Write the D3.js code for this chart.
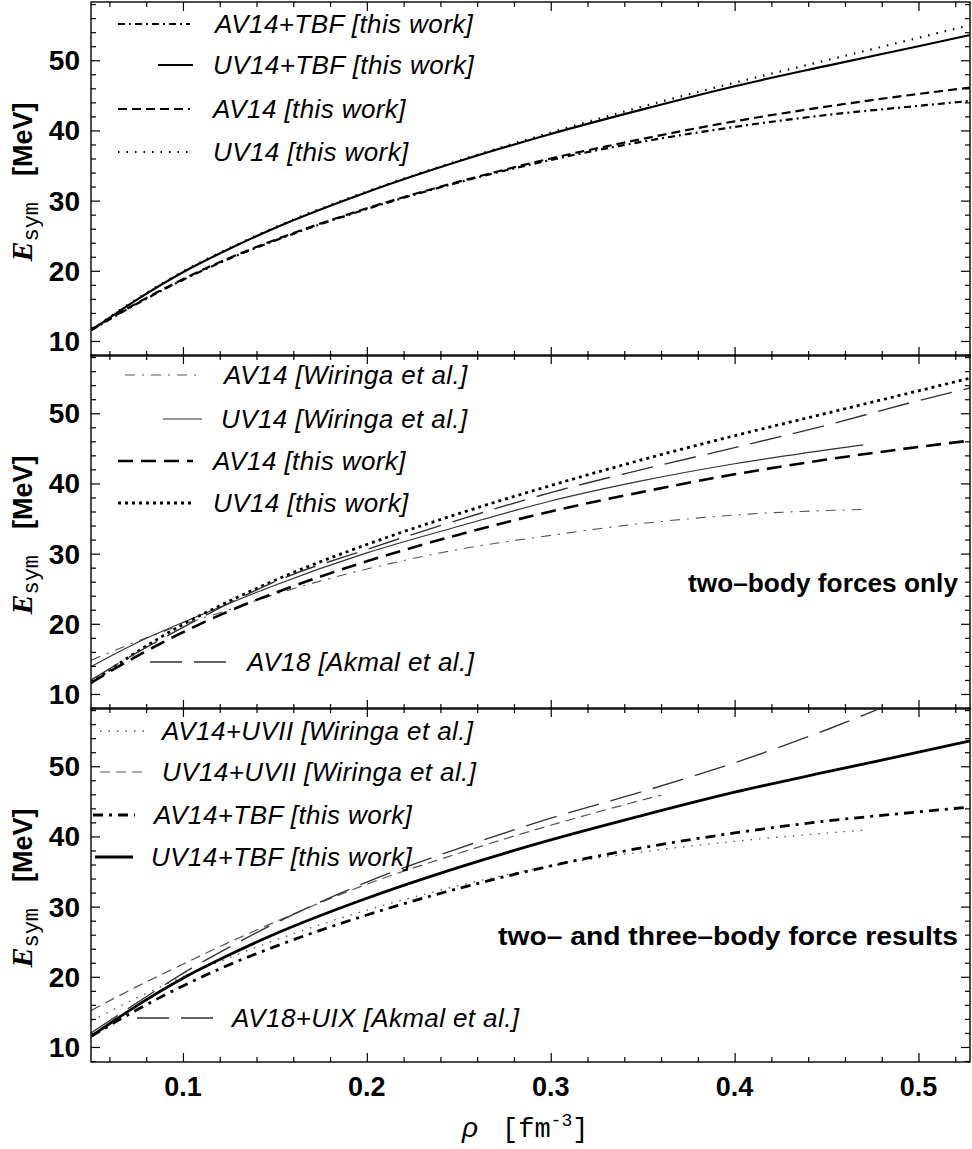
<!DOCTYPE html>
<html>
<head>
<meta charset="utf-8">
<script src="https://cdn.jsdelivr.net/npm/d3@7"></script>
<style>
  body { margin: 0; background: #fff; }
  svg { display: block; }
</style>
</head>
<body>
<div id="chart"></div>
<script>
// density grids (fm^-3)
var rho      = [0.05, 0.075, 0.1, 0.125, 0.15, 0.2, 0.25, 0.3, 0.35, 0.4, 0.45, 0.5, 0.528];
var rhoWir   = [0.05, 0.075, 0.1, 0.125, 0.15, 0.2, 0.25, 0.3, 0.35, 0.4, 0.47];
var rhoUVII  = [0.05, 0.075, 0.1, 0.125, 0.15, 0.2, 0.25, 0.3, 0.36];
var rhoAk    = [0.05, 0.075, 0.1, 0.125, 0.15, 0.2, 0.25, 0.3, 0.35, 0.4, 0.45, 0.5, 0.528];
var rhoAkUIX = [0.05, 0.075, 0.1, 0.125, 0.15, 0.2, 0.25, 0.3, 0.35, 0.4, 0.45, 0.5];

// E_sym (MeV)
var uv14tbf  = [11.5, 15.9, 19.8, 23.1, 26.1, 31.2, 35.6, 39.5, 43.0, 46.3, 49.2, 52.0, 53.6];
var av14tbf  = [11.5, 15.3, 18.7, 21.7, 24.3, 28.8, 32.6, 35.8, 38.4, 40.5, 42.2, 43.5, 44.2];
var av14     = [11.6, 15.4, 18.8, 21.8, 24.4, 28.9, 32.7, 36.0, 38.8, 41.3, 43.4, 45.2, 46.1];
var uv14     = [11.6, 16.0, 19.9, 23.2, 26.2, 31.3, 35.7, 39.7, 43.4, 46.8, 50.0, 53.2, 55.0];
var av14Wir  = [14.8, 17.5, 19.9, 22.0, 24.2, 27.8, 30.6, 32.6, 34.3, 35.5, 36.3];
var uv14Wir  = [13.9, 17.3, 20.2, 22.9, 25.5, 30.1, 33.9, 37.5, 40.4, 42.8, 45.5];
var av18Ak   = [12.0, 15.9, 19.5, 22.9, 26.0, 30.6, 34.8, 38.7, 42.0, 45.1, 48.3, 51.8, 53.6];
var av14uvii = [13.7, 17.0, 20.0, 22.7, 25.2, 29.5, 33.0, 35.8, 37.8, 39.3, 40.9];
var uv14uvii = [15.2, 18.6, 21.8, 24.9, 27.8, 33.2, 37.6, 41.6, 45.9];
var av18uix  = [12.0, 16.3, 20.5, 24.2, 27.6, 33.5, 38.3, 42.6, 46.4, 50.5, 55.2, 60.5];

// legend labels per panel
var legend1 = ["AV14+TBF [this work]", "UV14+TBF [this work]", "AV14 [this work]", "UV14 [this work]"];
var legend2 = ["AV14 [Wiringa et al.]", "UV14 [Wiringa et al.]", "AV14 [this work]", "UV14 [this work]", "AV18 [Akmal et al.]"];
var legend3 = ["AV14+UVII [Wiringa et al.]", "UV14+UVII [Wiringa et al.]", "AV14+TBF [this work]", "UV14+TBF [this work]", "AV18+UIX [Akmal et al.]"];
var notes = ["", "two\u2013body forces only", "two\u2013 and three\u2013body force results"];

var xTicks = [0.1, 0.2, 0.3, 0.4, 0.5];
var yTicks = [10, 20, 30, 40, 50];

// line styles
var S = {
  tbfDashDot: { w: 2.2, c: "#000", d: "7,4,2,4" },
  solid:      { w: 2.2, c: "#000", d: null },
  dashed:     { w: 2.2, c: "#000", d: "9,5" },
  dotted:     { w: 2.2, c: "#000", d: "1.5,7" },
  wirDashDot: { w: 1.1, c: "#555", d: "10,7,2,7" },
  wirSolid:   { w: 1.2, c: "#333", d: null },
  thickDash:  { w: 2.6, c: "#000", d: "15,8" },
  thickDot:   { w: 2.8, c: "#000", d: "3,4" },
  longDash:   { w: 1.4, c: "#333", d: "32,12" },
  grayDot:    { w: 1.3, c: "#555", d: "1.5,7" },
  grayDash:   { w: 1.2, c: "#555", d: "10,6" },
  boldDashDot:{ w: 2.8, c: "#000", d: "10,6,3,6" },
  boldSolid:  { w: 2.8, c: "#000", d: null }
};

var panels = [
  { series: [[rho, av14tbf, S.tbfDashDot], [rho, uv14tbf, S.solid], [rho, av14, S.dashed], [rho, uv14, S.dotted]],
    legend: legend1,
    rows: [[118, 190, 215, 22], [158, 193, 213, 63], [118, 190, 213, 107], [118, 190, 213, 150]] },
  { series: [[rhoWir, av14Wir, S.wirDashDot], [rhoWir, uv14Wir, S.wirSolid], [rho, av14, S.thickDash], [rho, uv14, S.thickDot], [rhoAk, av18Ak, S.longDash]],
    legend: legend2,
    rows: [[125, 196, 224, 20], [163, 202, 221, 64], [118, 193, 213, 106], [118, 193, 213, 148], [150, 227, 247, 307]] },
  { series: [[rhoWir, av14uvii, S.grayDot], [rhoUVII, uv14uvii, S.grayDash], [rho, av14tbf, S.boldDashDot], [rho, uv14tbf, S.boldSolid], [rhoAkUIX, av18uix, S.longDash]],
    legend: legend3,
    rows: [[100, 145, 162, 23], [100, 145, 162, 64], [93, 135, 154, 107], [95, 133, 151, 149], [137, 213, 232, 310]] }
];

var W = 972, H = 1149;
var tops = [2, 355, 708], ph = 354;
var noteLen = [0, 270, 460];
var x = d3.scaleLinear().domain([0.05, 0.528]).range([91, 970]);

var svg = d3.select("#chart").append("svg").attr("width", W).attr("height", H);
var sans = "'Liberation Sans', Arial, sans-serif";

panels.forEach(function(p, k) {
  var top = tops[k];
  var y = d3.scaleLinear().domain([7.86, 58.3]).range([top + ph, top]);
  var g = svg.append("g");

  svg.append("clipPath").attr("id", "clip" + k)
    .append("rect").attr("x", 91).attr("y", top).attr("width", 879).attr("height", ph);

  var line = d3.line().curve(d3.curveMonotoneX);

  p.series.forEach(function(s) {
    var pts = s[0].map(function(r, i) { return [x(r), y(s[1][i])]; });
    g.append("path")
      .attr("d", line(pts))
      .attr("clip-path", "url(#clip" + k + ")")
      .attr("fill", "none")
      .attr("stroke", s[2].c)
      .attr("stroke-width", s[2].w)
      .attr("stroke-dasharray", s[2].d);
  });

  // frame ticks, inward on all four sides
  var minorX = d3.range(0.06, 0.528, 0.02).filter(function(v) { return Math.abs(v * 10 - Math.round(v * 10)) > 1e-6; });
  var minorY = d3.range(8, 58.3, 2).filter(function(v) { return v % 10 != 0; });

  function ax(gen, t) {
    var a = g.append("g").attr("transform", t).call(gen);
    a.select(".domain").remove();
    a.selectAll("line").attr("stroke", "#000").attr("stroke-width", 1.2);
    return a;
  }
  ax(d3.axisBottom(x).tickValues(xTicks).tickSize(-9).tickFormat(""), "translate(0," + (top + ph) + ")");
  ax(d3.axisBottom(x).tickValues(minorX).tickSize(-5).tickFormat(""), "translate(0," + (top + ph) + ")");
  ax(d3.axisTop(x).tickValues(xTicks).tickSize(-9).tickFormat(""), "translate(0," + top + ")");
  ax(d3.axisTop(x).tickValues(minorX).tickSize(-5).tickFormat(""), "translate(0," + top + ")");
  ax(d3.axisLeft(y).tickValues(yTicks).tickSize(-9).tickFormat(""), "translate(91,0)");
  ax(d3.axisLeft(y).tickValues(minorY).tickSize(-5).tickFormat(""), "translate(91,0)");
  ax(d3.axisRight(y).tickValues(yTicks).tickSize(-9).tickFormat(""), "translate(970,0)");
  ax(d3.axisRight(y).tickValues(minorY).tickSize(-5).tickFormat(""), "translate(970,0)");

  g.append("rect")
    .attr("x", 91).attr("y", top).attr("width", 879).attr("height", ph)
    .attr("fill", "none").attr("stroke", "#000").attr("stroke-width", 1.4);

  // y tick labels
  g.selectAll(".ylab").data(yTicks).enter().append("text")
    .attr("x", 80).attr("y", function(d) { return y(d) + 10; })
    .attr("text-anchor", "end")
    .style("font-family", sans).style("font-weight", "bold").style("font-size", "28px")
    .text(function(d) { return d; });

  // y axis title
  var yt = g.append("text")
    .attr("transform", "translate(32," + (top + 180) + ") rotate(-90)")
    .attr("text-anchor", "middle");
  yt.append("tspan").style("font-family", "'Liberation Serif', serif").style("font-weight", "bold")
    .style("font-style", "italic").style("font-size", "30px").text("E");
  yt.append("tspan").attr("dy", 6).style("font-family", "'Liberation Mono', monospace")
    .style("font-size", "22px").text("sym");
  yt.append("tspan").attr("dy", -6).attr("dx", 26).style("font-family", sans)
    .style("font-weight", "bold").style("font-size", "27px").text("[MeV]");

  // legend
  p.legend.forEach(function(lab, i) {
    var r = p.rows[i], st = p.series[i][2];
    g.append("line")
      .attr("x1", r[0]).attr("x2", r[1]).attr("y1", top + r[3]).attr("y2", top + r[3])
      .attr("stroke", st.c).attr("stroke-width", st.w).attr("stroke-dasharray", st.d);
    g.append("text")
      .attr("x", r[2]).attr("y", top + r[3] + 9)
      .style("font-family", sans).style("font-style", "italic").style("font-size", "26px")
      .style("letter-spacing", "0.4px")
      .text(lab);
  });

  if (notes[k]) {
    g.append("text")
      .attr("x", 958 - noteLen[k]).attr("y", top + 237)
      .attr("textLength", noteLen[k]).attr("lengthAdjust", "spacingAndGlyphs")
      .style("font-family", sans).style("font-weight", "bold").style("font-size", "26px")
      .text(notes[k]);
  }

  if (k == 2) {
    g.selectAll(".xlab").data(xTicks).enter().append("text")
      .attr("x", function(d) { return x(d); }).attr("y", 1096)
      .attr("text-anchor", "middle")
      .style("font-family", sans).style("font-weight", "bold").style("font-size", "27px")
      .text(function(d) { return d; });
  }
});

// x axis title
var xt = svg.append("text").attr("x", 462).attr("y", 1137);
xt.append("tspan").style("font-family", sans).style("font-style", "italic").style("font-size", "28px").text("\u03c1");
xt.append("tspan").attr("x", 502).style("font-family", "'Liberation Mono', monospace").style("font-size", "27px").text("[fm");
xt.append("tspan").attr("dy", -11).style("font-family", "'Liberation Mono', monospace").style("font-size", "18px").text("-3");
xt.append("tspan").attr("dy", 11).style("font-family", "'Liberation Mono', monospace").style("font-size", "27px").text("]");
</script>
</body>
</html>
